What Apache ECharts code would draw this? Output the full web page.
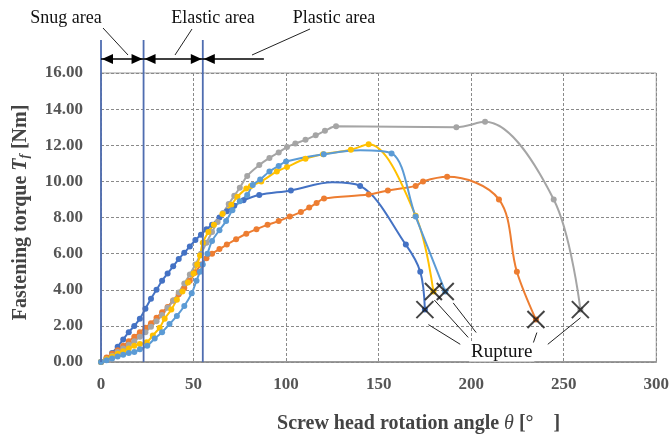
<!DOCTYPE html>
<html>
<head>
<meta charset="utf-8">
<script src="https://cdn.jsdelivr.net/npm/echarts@6/dist/echarts.min.js"></script>
<style>
  html, body { margin: 0; padding: 0; background: #fff; }
  #chart { width: 672px; height: 439px; }
</style>
</head>
<body>
<div id="chart"></div>
<script>
// Fastening torque vs. screw head rotation angle, five specimens.
const angleA  = [0,3,6,9,12,15,18,21,24,27,30,33,36,39,42,45,48,51,54,57,60,64,68,72,77,85.5,102.6,125,140,164.7,172.5,175];
const torqueA = [0,0.2,0.5,0.85,1.25,1.65,2.0,2.4,2.95,3.5,4.0,4.5,4.9,5.3,5.7,6.05,6.4,6.75,7.05,7.35,7.6,8.0,8.35,8.65,8.95,9.25,9.5,9.95,9.75,6.5,5.0,2.9];

const angleB  = [0,3,6,9,12,15,18,21,24,27,30,33,36,39,42,45,48,51,54,57,60,64,68,73,78.5,84,90,96,102,108,112.5,116.5,120.5,144.6,155,170,174,187,215,224.7,235];
const torqueB = [0,0.25,0.45,0.65,0.9,1.15,1.4,1.65,1.9,2.15,2.45,2.75,3.05,3.4,3.75,4.1,4.5,4.95,5.4,5.75,6.0,6.25,6.5,6.8,7.1,7.35,7.6,7.8,8.05,8.3,8.55,8.8,9.05,9.27,9.5,9.75,10.0,10.25,9.0,5.0,2.35];

const angleC  = [0,3,6,9,12,15,18,21,24,27,30,33,36,39,42,45,48,51,54,57,60,63,66,69,72,75,79,85.5,91,96,100.5,105,110.5,116,121,127,192,207.5,244.6,259];
const torqueC = [0,0.15,0.35,0.55,0.75,0.95,1.15,1.4,1.65,1.95,2.25,2.6,3.0,3.4,3.85,4.35,4.85,5.4,6.0,6.6,7.2,7.75,8.25,8.75,9.2,9.65,10.3,10.9,11.3,11.6,11.9,12.1,12.3,12.55,12.8,13.05,13.0,13.3,9.0,2.9];

const angleD  = [0,3,6,9,12,15,18,21,24.7,28,31.7,34.4,38,41,44,47,50,52,53.5,55,58,61,65.6,70.4,73.7,78.5,81,86.6,95,100.5,110.5,120,135,144.6,170,179.6];
const torqueD = [0,0.15,0.3,0.45,0.6,0.75,0.9,1.0,1.1,1.47,1.9,2.4,2.9,3.45,3.9,4.4,4.9,5.4,5.9,6.6,7.2,7.6,8.2,8.7,9.15,9.6,9.75,10.0,10.55,10.8,11.25,11.5,11.75,12.05,8.1,3.9];

const angleE  = [0,3,6,9,12,15,18,21,25,29,33,37,41,45,49,51.6,53.5,55,57.5,60,64,67.6,71,75,79,82,86,91,96,100,120.4,140,157,170,186];
const torqueE = [0,0.1,0.2,0.3,0.4,0.5,0.55,0.7,0.9,1.3,1.65,2.1,2.55,3.1,3.8,4.5,5.0,5.4,6.0,6.7,7.3,7.8,8.4,8.9,9.25,9.8,10.1,10.55,10.85,11.1,11.5,11.72,11.55,8.05,3.9];

// readings taken along the curve where no marker is drawn
const unmarkedA = [125];
const unmarkedE = [140];

const zoneBounds = [0, 23, 55];
const zoneNames = ['Snug area', 'Elastic area', 'Plastic area'];
const xTicks = [0, 50, 100, 150, 200, 250, 300];
const yTicks = [0, 2, 4, 6, 8, 10, 12, 14, 16];

const SERIF = '"Liberation Serif", "Times New Roman", serif';
const specimens = [
  { ang: angleA, tq: torqueA, color: '#4472C4', bare: unmarkedA },
  { ang: angleB, tq: torqueB, color: '#ED7D31', bare: [] },
  { ang: angleC, tq: torqueC, color: '#A5A5A5', bare: [] },
  { ang: angleD, tq: torqueD, color: '#FFC000', bare: [] },
  { ang: angleE, tq: torqueE, color: '#5B9BD5', bare: unmarkedE }
];

const points = s => s.ang.map((x, i) =>
  s.bare.includes(x) ? { value: [x, s.tq[i]], symbol: 'none' } : [x, s.tq[i]]);

const lineSeries = specimens.map(s => ({
  type: 'line',
  data: points(s),
  smooth: 0.35,
  symbol: 'circle',
  symbolSize: 6,
  lineStyle: { color: s.color, width: 2 },
  itemStyle: { color: s.color },
  z: 3
}));

// rupture points are the final reading of each specimen
const rupturePts = specimens.map(s => [s.ang[s.ang.length - 1], s.tq[s.tq.length - 1]]);

const chart = echarts.init(document.getElementById('chart'), null, { renderer: 'canvas' });

chart.setOption({
  animation: false,
  backgroundColor: '#fff',
  grid: {
    left: 101, right: 14, top: 73, bottom: 72,
    show: true, borderColor: '#9a9a9a', borderWidth: 1, backgroundColor: 'transparent'
  },
  xAxis: {
    type: 'value', min: xTicks[0], max: xTicks[xTicks.length - 1], interval: 50,
    name: '{b|Screw head rotation angle }{i|θ}{b| [°    ]}',
    nameLocation: 'middle', nameGap: 52,
    nameTextStyle: {
      padding: [0, 0, 0, 80],
      rich: {
        b: { fontFamily: SERIF, fontSize: 20, fontWeight: 'bold', color: '#444' },
        i: { fontFamily: SERIF, fontSize: 20, fontStyle: 'italic', color: '#444' }
      }
    },
    axisLine: { show: true, lineStyle: { color: '#8a8a8a', width: 1.5 } },
    axisTick: { show: false },
    axisLabel: { fontFamily: SERIF, fontSize: 17, fontWeight: 'bold', color: '#555', margin: 14 },
    splitLine: { show: true, lineStyle: { color: '#8a8a8a', type: [3, 2], width: 1 } }
  },
  yAxis: {
    type: 'value', min: yTicks[0], max: yTicks[yTicks.length - 1], interval: 2,
    name: '{b|Fastening torque }{i|T}{s|f}{b| [Nm]}',
    nameLocation: 'middle', nameGap: 70, nameRotate: 90,
    nameTextStyle: {
      padding: [0, 0, 0, 10],
      rich: {
        b: { fontFamily: SERIF, fontSize: 20, fontWeight: 'bold', color: '#444' },
        i: { fontFamily: SERIF, fontSize: 20, fontStyle: 'italic', fontWeight: 'bold', color: '#444' },
        s: { fontFamily: SERIF, fontSize: 13, fontStyle: 'italic', fontWeight: 'bold', color: '#444', verticalAlign: 'bottom', padding: [8, 0, 0, 0] }
      }
    },
    axisLine: { show: false },
    axisTick: { show: false },
    axisLabel: {
      fontFamily: SERIF, fontSize: 17, fontWeight: 'bold', color: '#555', margin: 18,
      formatter: v => v.toFixed(2)
    },
    splitLine: { show: true, lineStyle: { color: '#8a8a8a', type: [3, 2], width: 1 } }
  },
  series: lineSeries.concat([{
    type: 'scatter',
    data: rupturePts,
    symbol: 'path://M0,0L10,10M10,0L0,10',
    symbolSize: 17,
    itemStyle: { color: 'none', borderColor: '#151515', borderWidth: 2 },
    z: 5
  }])
});

// annotations: zone boundaries, zone arrows, rupture call-outs
const px = (x, y) => chart.convertToPixel({ gridIndex: 0 }, [x, y]);
const g = [];
const zoneColor = '#4F6DB0';
const yBottom = px(0, 0)[1];
const lineTop = 40;
const arrowY = 59;

zoneBounds.forEach(b => {
  const x = px(b, 0)[0];
  g.push({ type: 'line', shape: { x1: x, y1: lineTop, x2: x, y2: yBottom },
    style: { stroke: zoneColor, lineWidth: 1.8 }, z: 10 });
});

function head(x, y, dir) {
  // dir = -1 points left, +1 points right
  const L = 11, W = 5;
  g.push({ type: 'polygon', shape: { points: [[x, y], [x - dir * L, y - W], [x - dir * L, y + W]] },
    style: { fill: '#000' }, z: 11 });
}
function arrow(xa, xb, leftHead, rightHead) {
  g.push({ type: 'line', shape: { x1: xa, y1: arrowY, x2: xb, y2: arrowY },
    style: { stroke: '#000', lineWidth: 1.6 }, z: 11 });
  if (leftHead) head(xa + 1, arrowY, -1);
  if (rightHead) head(xb - 1, arrowY, 1);
}
const xs = zoneBounds.map(b => px(b, 0)[0]);
arrow(xs[0], xs[1], true, true);
arrow(xs[1], xs[2], true, true);
arrow(xs[2], px(88, 0)[0], true, false);

const labelX = [66, 213, 334];
const leaders = [[103, 28, 128, 55], [192, 29, 175, 55], [310, 29, 252, 55]];
zoneNames.forEach((name, i) => {
  g.push({ type: 'text', x: labelX[i], y: 18,
    style: { text: name, font: '18px ' + SERIF, fill: '#111', align: 'center', verticalAlign: 'middle' }, z: 12 });
  const l = leaders[i];
  g.push({ type: 'line', shape: { x1: l[0], y1: l[1], x2: l[2], y2: l[3] },
    style: { stroke: '#222', lineWidth: 1 }, z: 12 });
});

// call-out lines from the rupture marks to the label
const calloutEnds = [[194.1, 0.98], [198.4, 1.36], [202.7, 1.63], [233.3, 0.98], [241.4, 0.98]];
const calloutStarts = [[176.9, 2.07], [180.1, 3.43], [190.3, 3.27], [235.5, 1.63], [259.1, 2.45]];
calloutStarts.forEach((s, i) => {
  const a = px(s[0], s[1]), b = px(calloutEnds[i][0], calloutEnds[i][1]);
  g.push({ type: 'line', shape: { x1: a[0], y1: a[1], x2: b[0], y2: b[1] },
    style: { stroke: '#222', lineWidth: 1 }, z: 12 });
});
const rl = px(216.5, 0.55);
g.push({ type: 'text', x: rl[0], y: rl[1],
  style: { text: 'Rupture', font: '19px ' + SERIF, fill: '#111', align: 'center', verticalAlign: 'middle',
    backgroundColor: '#fff', padding: [0, 2] }, z: 13 });

chart.setOption({ graphic: g });
</script>
</body>
</html>
